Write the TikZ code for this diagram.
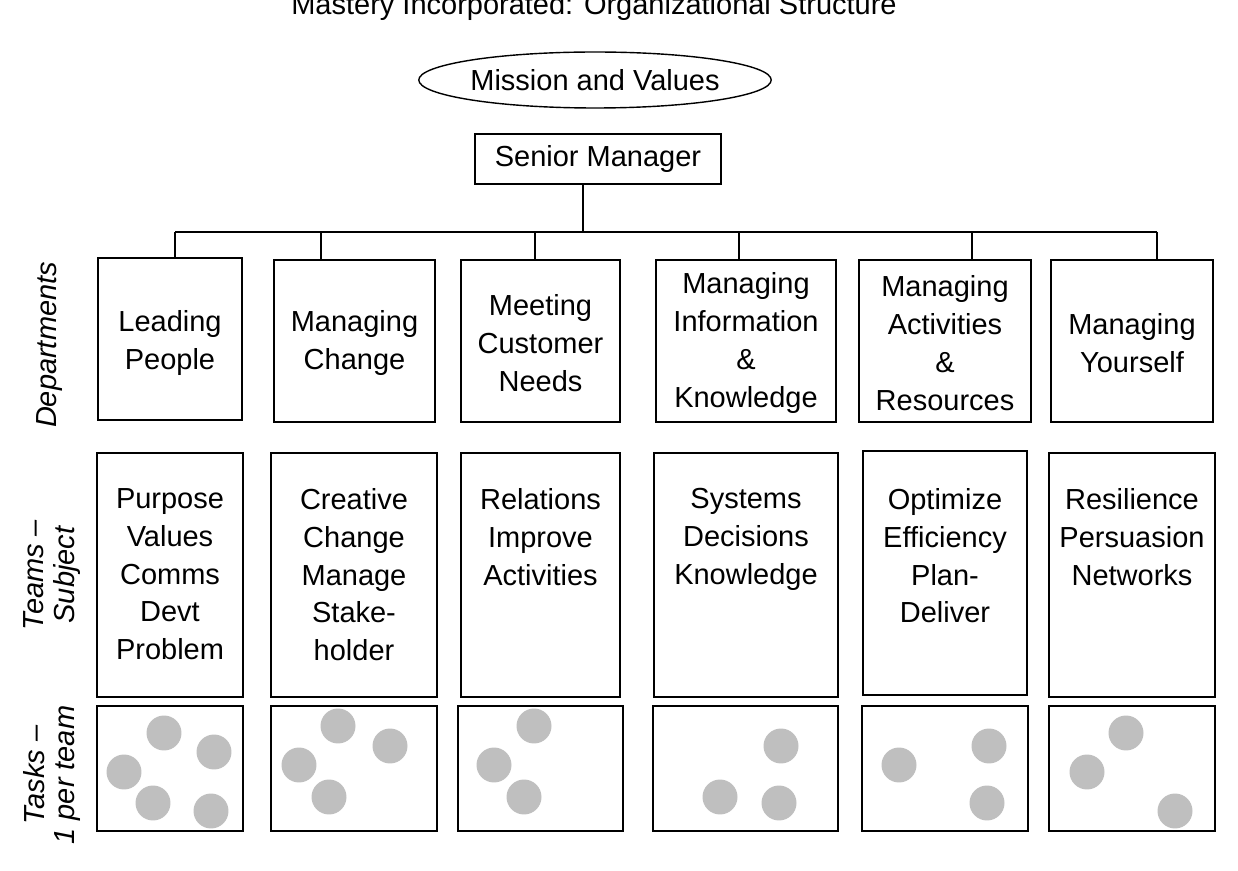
\documentclass[tikz,border=0pt]{standalone}
\usepackage{fontspec}
\setmainfont{Liberation Sans}
\usetikzlibrary{shapes.geometric}
\begin{document}
\begin{tikzpicture}[x=0.02cm,y=-0.02cm,line width=0.8pt,
  txt/.style={font=\fontsize{16.5}{21.5}\selectfont,align=center},
  side/.style={font=\fontsize{16.5}{17.5}\selectfont\itshape,align=center,rotate=90}]
\useasboundingbox (0,0) rectangle (1238,871);
\node[anchor=base,font=\fontsize{16.5}{18}\selectfont] (title) at (594,15) {Mastery Incorporated: Organizational Structure};
\node[draw,ellipse,minimum width=6.75cm,minimum height=1.12cm,inner sep=0pt,txt] (mv) at (595,80) {Mission and Values};
\node[draw,minimum width=4.92cm,minimum height=1cm,inner sep=0pt,txt] (sm) at (598,159) {Senior Manager};
\coordinate (smb) at (583,184);
\coordinate (hub) at (583,232);
\draw (smb) -- (hub);
\draw (175,232) -- (1157,232);
\foreach \x in {175,321,535,739,972,1157} \draw (\x,232) -- (\x,259);
% departments
\foreach \a/\b/\c/\d/\t in {98/242/258/420/{Leading\\People},274/435/260/422/{Managing\\Change},461/620/260/422/{Meeting\\Customer\\Needs},656/836/260/422/{Managing\\Information\\\&\\Knowledge},859/1031/260/422/{Managing\\Activities\\\&\\Resources},1051/1213/260/422/{Managing\\Yourself}}{
  \draw (\a,\c) rectangle (\b,\d);
  \node[txt] at ({(\a+\b)/2},343) {\t};}
% teams
\foreach \a/\b/\c/\d/\t in {97/243/453/697/{Purpose\\Values\\Comms\\Devt\\Problem},271/437/453/697/{Creative\\Change\\Manage\\Stake-\\holder},461/620/453/697/{Relations\\Improve\\Activities},654/838/453/697/{Systems\\Decisions\\Knowledge},863/1027/451/695/{Optimize\\Efficiency\\Plan-\\Deliver},1049/1215/453/697/{Resilience\\Persuasion\\Networks}}{
  \draw (\a,\c) rectangle (\b,\d);
  \node[txt,anchor=north] at ({(\a+\b)/2},482) {\t};}
% tasks
\foreach \a/\b in {97/243,271/437,458/623,653/838,862/1028,1049/1215}
  \draw (\a,706) rectangle (\b,831);
\foreach \x/\y in {164/733,214/752,124/772,153/803,211/811,338/726,390/746,299/765,329/797,534/726,494/765,524/797,781/746,720/797,779/803,989/746,899/765,987/803,1126/733,1087/772,1175/811}
  \fill[black!25] (\x,\y) circle[radius=0.35cm];
\node[side] (d) at (50,345) {Departments};
\node[side] (t) at (52,575) {Teams –\\Subject};
\node[side] (k) at (52,775) {Tasks –\\1 per team};
\end{tikzpicture}
\end{document}
